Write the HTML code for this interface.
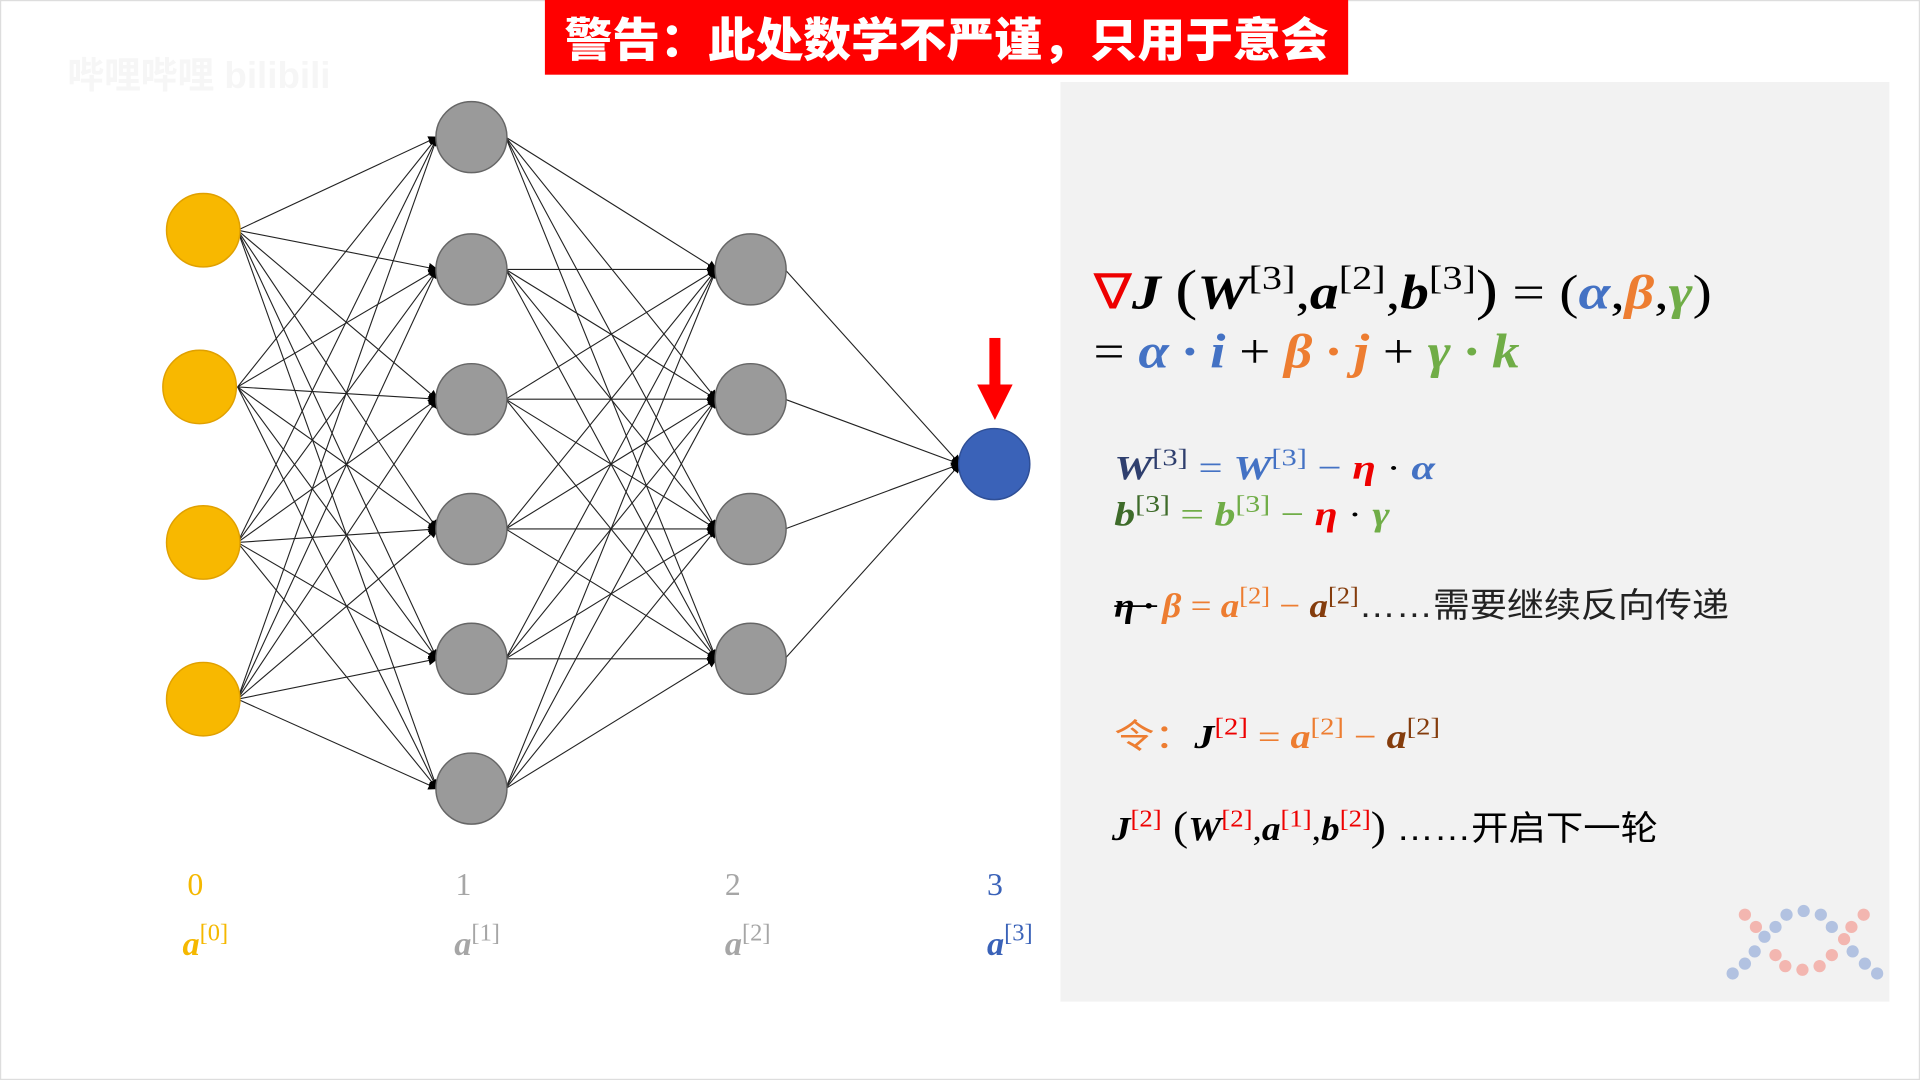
<!DOCTYPE html>
<html><head><meta charset="utf-8">
<style>
html,body{margin:0;padding:0;background:#fff;width:1920px;height:1080px;overflow:hidden}
svg{display:block}
.m{font-family:"Liberation Serif","Noto Serif CJK SC",serif;font-weight:bold;font-style:italic}
.r{font-family:"Liberation Serif",serif;font-weight:normal;font-style:normal}
.cn{font-family:"Liberation Sans","Noto Sans CJK SC",sans-serif;font-style:normal;font-weight:normal}
</style></head><body>
<svg width="1920" height="1080" viewBox="0 0 1568 882" xmlns="http://www.w3.org/2000/svg">
<defs>
<marker id="ah" markerWidth="8" markerHeight="8" refX="7" refY="4" orient="auto" markerUnits="userSpaceOnUse">
<path d="M0,0 L8,4 L0,8 z" fill="#000"/></marker>
</defs>
<rect x="0" y="0" width="1568" height="882" fill="#fff"/>
<rect x="0.5" y="0.5" width="1567" height="881" fill="none" stroke="#ddd"/>
<rect x="866" y="67" width="677" height="751" fill="#f2f2f2"/>
<rect x="445" y="0" width="656" height="61" fill="#ff0000"/>
<text x="773" y="46" text-anchor="middle" font-family="'Noto Sans CJK SC',sans-serif" font-weight="900" font-size="38" fill="#fff" textLength="624" lengthAdjust="spacingAndGlyphs">警告：此处数学不严谨，只用于意会</text>
<text x="55" y="72" font-family="'Liberation Sans','Noto Sans CJK SC',sans-serif" font-size="30" fill="#f6f6f6" font-weight="bold">哔哩哔哩 bilibili</text>
<g stroke="#222" stroke-width="0.9" marker-end="url(#ah)">
<!-- L0 -> L1 -->
<line x1="194" y1="188" x2="357" y2="112"/><line x1="194" y1="188" x2="357" y2="220"/><line x1="194" y1="188" x2="357" y2="326"/><line x1="194" y1="188" x2="357" y2="432"/><line x1="194" y1="188" x2="357" y2="538"/><line x1="194" y1="188" x2="357" y2="644"/>
<line x1="194" y1="316" x2="357" y2="112"/><line x1="194" y1="316" x2="357" y2="220"/><line x1="194" y1="316" x2="357" y2="326"/><line x1="194" y1="316" x2="357" y2="432"/><line x1="194" y1="316" x2="357" y2="538"/><line x1="194" y1="316" x2="357" y2="644"/>
<line x1="194" y1="443" x2="357" y2="112"/><line x1="194" y1="443" x2="357" y2="220"/><line x1="194" y1="443" x2="357" y2="326"/><line x1="194" y1="443" x2="357" y2="432"/><line x1="194" y1="443" x2="357" y2="538"/><line x1="194" y1="443" x2="357" y2="644"/>
<line x1="194" y1="571" x2="357" y2="112"/><line x1="194" y1="571" x2="357" y2="220"/><line x1="194" y1="571" x2="357" y2="326"/><line x1="194" y1="571" x2="357" y2="432"/><line x1="194" y1="571" x2="357" y2="538"/><line x1="194" y1="571" x2="357" y2="644"/>
<!-- L1 -> L2 -->
<line x1="413" y1="112" x2="585" y2="220"/><line x1="413" y1="112" x2="585" y2="326"/><line x1="413" y1="112" x2="585" y2="432"/><line x1="413" y1="112" x2="585" y2="538"/>
<line x1="413" y1="220" x2="585" y2="220"/><line x1="413" y1="220" x2="585" y2="326"/><line x1="413" y1="220" x2="585" y2="432"/><line x1="413" y1="220" x2="585" y2="538"/>
<line x1="413" y1="326" x2="585" y2="220"/><line x1="413" y1="326" x2="585" y2="326"/><line x1="413" y1="326" x2="585" y2="432"/><line x1="413" y1="326" x2="585" y2="538"/>
<line x1="413" y1="432" x2="585" y2="220"/><line x1="413" y1="432" x2="585" y2="326"/><line x1="413" y1="432" x2="585" y2="432"/><line x1="413" y1="432" x2="585" y2="538"/>
<line x1="413" y1="538" x2="585" y2="220"/><line x1="413" y1="538" x2="585" y2="326"/><line x1="413" y1="538" x2="585" y2="432"/><line x1="413" y1="538" x2="585" y2="538"/>
<line x1="413" y1="644" x2="585" y2="220"/><line x1="413" y1="644" x2="585" y2="326"/><line x1="413" y1="644" x2="585" y2="432"/><line x1="413" y1="644" x2="585" y2="538"/>
<!-- L2 -> out -->
<line x1="641" y1="220" x2="784" y2="379"/><line x1="641" y1="326" x2="784" y2="379"/><line x1="641" y1="432" x2="784" y2="379"/><line x1="641" y1="538" x2="784" y2="379"/>
</g>
<g stroke-width="1.2">
<g fill="#f8b800" stroke="#e0a000">
<circle cx="166" cy="188" r="30"/><circle cx="163" cy="316" r="30"/><circle cx="166" cy="443" r="30"/><circle cx="166" cy="571" r="30"/>
</g>
<g fill="#9a9a9a" stroke="#666">
<circle cx="385" cy="112" r="29"/><circle cx="385" cy="220" r="29"/><circle cx="385" cy="326" r="29"/><circle cx="385" cy="432" r="29"/><circle cx="385" cy="538" r="29"/><circle cx="385" cy="644" r="29"/>
<circle cx="613" cy="220" r="29"/><circle cx="613" cy="326" r="29"/><circle cx="613" cy="432" r="29"/><circle cx="613" cy="538" r="29"/>
</g>
<circle cx="812" cy="379" r="29" fill="#3a62b8" stroke="#2f4f96"/>
</g>
<!-- red arrow -->
<rect x="808" y="276" width="9" height="40" fill="#f00"/>
<path d="M798,314 L827,314 L812.5,343 z" fill="#f00"/>
<!-- layer labels -->
<g class="r" font-size="26">
<text x="153" y="731" fill="#f5b800">0</text>
<text x="372" y="731" fill="#a6a6a6">1</text>
<text x="592" y="731" fill="#a6a6a6">2</text>
<text x="806" y="731" fill="#3a62b8">3</text>
</g>
<g class="m" font-size="28">
<text x="149" y="780" fill="#f5b800">a<tspan class="r" font-size="20" dy="-12">[0]</tspan></text>
<text x="371" y="780" fill="#a6a6a6">a<tspan class="r" font-size="20" dy="-12">[1]</tspan></text>
<text x="592" y="780" fill="#a6a6a6">a<tspan class="r" font-size="20" dy="-12">[2]</tspan></text>
<text x="806" y="780" fill="#3a62b8">a<tspan class="r" font-size="20" dy="-12">[3]</tspan></text>
</g>
<!-- formulas -->
<g class="m">
<text x="893" y="252" font-size="40" fill="#000" textLength="505" lengthAdjust="spacingAndGlyphs"><tspan fill="#e00" class="r">∇</tspan>J <tspan class="r" font-size="46">(</tspan>W<tspan class="r" font-size="28" dy="-16">[3]</tspan><tspan dy="16" class="r">,</tspan>a<tspan class="r" font-size="28" dy="-16">[2]</tspan><tspan dy="16" class="r">,</tspan>b<tspan class="r" font-size="28" dy="-16">[3]</tspan><tspan dy="16" class="r" font-size="46">)</tspan><tspan class="r"> = (</tspan><tspan fill="#4472c4">α</tspan><tspan class="r">,</tspan><tspan fill="#ed7d31">β</tspan><tspan class="r">,</tspan><tspan fill="#70ad47">γ</tspan><tspan class="r">)</tspan></text>
<text x="893" y="300" font-size="40" fill="#000" textLength="348" lengthAdjust="spacingAndGlyphs"><tspan class="r">= </tspan><tspan fill="#4472c4">α · i</tspan><tspan class="r"> + </tspan><tspan fill="#ed7d31">β · j</tspan><tspan class="r"> + </tspan><tspan fill="#70ad47">γ · k</tspan></text>
<text x="910" y="391" font-size="28" textLength="262" lengthAdjust="spacingAndGlyphs"><tspan fill="#2f3f6e">W<tspan class="r" font-size="20" dy="-11">[3]</tspan></tspan><tspan dy="11" fill="#4472c4" class="r"> = </tspan><tspan fill="#4472c4">W<tspan class="r" font-size="20" dy="-11">[3]</tspan></tspan><tspan dy="11" fill="#4472c4" class="r"> − </tspan><tspan fill="#e00">η</tspan><tspan class="r" fill="#000"> · </tspan><tspan fill="#4472c4">α</tspan></text>
<text x="910" y="429" font-size="28" textLength="225" lengthAdjust="spacingAndGlyphs"><tspan fill="#3e6b2a">b<tspan class="r" font-size="20" dy="-11">[3]</tspan></tspan><tspan dy="11" fill="#70ad47" class="r"> = </tspan><tspan fill="#70ad47">b<tspan class="r" font-size="20" dy="-11">[3]</tspan></tspan><tspan dy="11" fill="#70ad47" class="r"> − </tspan><tspan fill="#e00">η</tspan><tspan class="r" fill="#000"> · </tspan><tspan fill="#70ad47">γ</tspan></text>
<text x="910" y="504" font-size="28" textLength="502" lengthAdjust="spacingAndGlyphs"><tspan fill="#000">η · </tspan><tspan fill="#ed7d31">β</tspan><tspan fill="#ed7d31" class="r"> = </tspan><tspan fill="#ed7d31">a<tspan class="r" font-size="20" dy="-11">[2]</tspan></tspan><tspan dy="11" fill="#ed7d31" class="r"> − </tspan><tspan fill="#843c0c">a<tspan class="r" font-size="20" dy="-11">[2]</tspan></tspan><tspan dy="11" class="cn" fill="#222">……需要继续反向传递</tspan></text>
<line x1="910" y1="495" x2="945" y2="495" stroke="#000" stroke-width="1.5"/>
<text x="910" y="611" font-size="28" textLength="266" lengthAdjust="spacingAndGlyphs"><tspan class="cn" fill="#ed7d31">令：</tspan><tspan fill="#000">J<tspan class="r" font-size="20" dy="-11" fill="#e00">[2]</tspan></tspan><tspan dy="11" fill="#ed7d31" class="r"> = </tspan><tspan fill="#ed7d31">a<tspan class="r" font-size="20" dy="-11">[2]</tspan></tspan><tspan dy="11" fill="#ed7d31" class="r"> − </tspan><tspan fill="#843c0c">a<tspan class="r" font-size="20" dy="-11">[2]</tspan></tspan></text>
<text x="908" y="686" font-size="28" fill="#000" textLength="446" lengthAdjust="spacingAndGlyphs">J<tspan class="r" font-size="20" dy="-11" fill="#e00">[2]</tspan><tspan dy="11" class="r" font-size="34"> (</tspan>W<tspan class="r" font-size="20" dy="-11" fill="#e00">[2]</tspan><tspan dy="11" class="r">,</tspan>a<tspan class="r" font-size="20" dy="-11" fill="#e00">[1]</tspan><tspan dy="11" class="r">,</tspan>b<tspan class="r" font-size="20" dy="-11" fill="#e00">[2]</tspan><tspan dy="11" class="r" font-size="34">)</tspan><tspan class="cn"> ……开启下一轮</tspan></text>
</g>
<!-- watermark logo -->
<g opacity="0.75">
<g fill="#f4a39a"><circle cx="1425" cy="747" r="5"/><circle cx="1434" cy="757" r="5"/><circle cx="1450" cy="780" r="5"/><circle cx="1458" cy="789" r="5"/><circle cx="1472" cy="792" r="5"/><circle cx="1486" cy="789" r="5"/><circle cx="1496" cy="780" r="5"/><circle cx="1506" cy="767" r="5"/><circle cx="1512" cy="757" r="5"/><circle cx="1522" cy="747" r="5"/></g>
<g fill="#9db3dc"><circle cx="1415" cy="795" r="5"/><circle cx="1425" cy="787" r="5"/><circle cx="1433" cy="777" r="5"/><circle cx="1441" cy="765" r="5"/><circle cx="1450" cy="757" r="5"/><circle cx="1459" cy="747" r="5"/><circle cx="1473" cy="744" r="5"/><circle cx="1487" cy="747" r="5"/><circle cx="1496" cy="757" r="5"/><circle cx="1513" cy="777" r="5"/><circle cx="1523" cy="787" r="5"/><circle cx="1533" cy="795" r="5"/></g>
</g>
</svg>
</body></html>
